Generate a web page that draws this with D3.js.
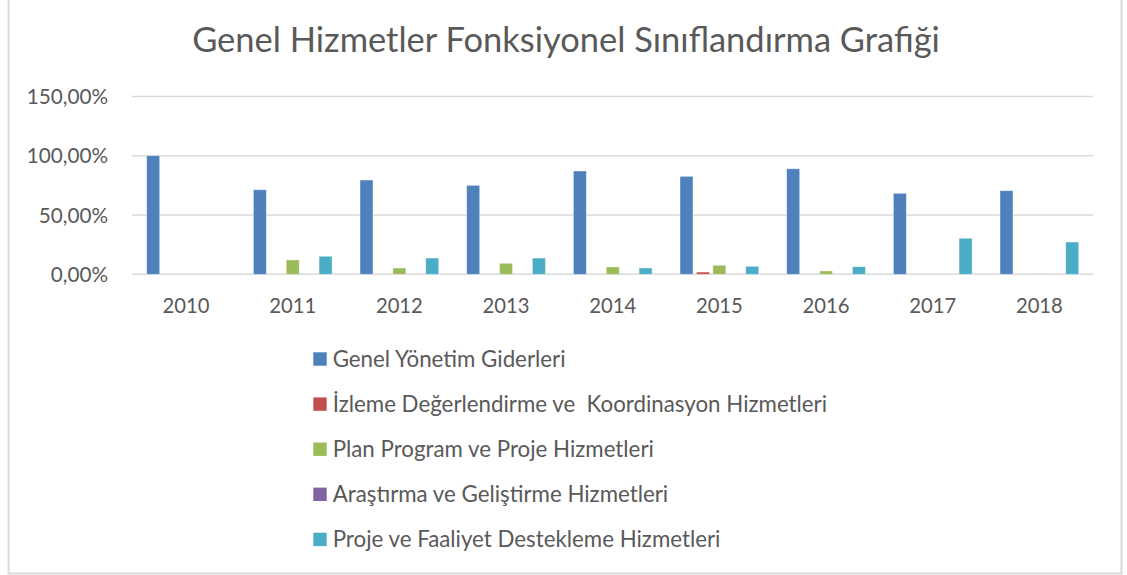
<!DOCTYPE html>
<html><head><meta charset="utf-8">
<script src="https://cdn.jsdelivr.net/npm/d3@7"></script>
<style>body{margin:0;background:#fff}svg{display:block}</style>
</head><body>
<svg id="c" width="1127" height="575"></svg>
<script>
const title = "Genel Hizmetler Fonksiyonel Sınıflandırma Grafiği";
const years = ["2010","2011","2012","2013","2014","2015","2016","2017","2018"];
const seriesNames = ["Genel Yönetim Giderleri","İzleme Değerlendirme ve  Koordinasyon Hizmetleri","Plan Program ve Proje Hizmetleri","Araştırma ve Geliştirme Hizmetleri","Proje ve Faaliyet Destekleme Hizmetleri"];
const seriesColors = ["#4f81bd","#c0504d","#9bbb59","#8064a2","#4bacc6"];
const genelYonetim = [1.00,0.713,0.795,0.75,0.871,0.826,0.89,0.683,0.705];
const izleme       = [0,0,0,0,0,0.019,0,0,0];
const planProgram  = [0,0.121,0.053,0.093,0.062,0.076,0.028,0,0.006];
const arastirma    = [0,0,0,0,0,0,0,0,0];
const projeFaaliyet= [0,0.152,0.137,0.137,0.053,0.067,0.064,0.304,0.272];
const yTicks = [0,0.5,1.0,1.5];
const yTickLabels = ["0,00%","50,00%","100,00%","150,00%"];

const seriesValues = [genelYonetim,izleme,planProgram,arastirma,projeFaaliyet];
const svg = d3.select("#c");
const font = "Lato, 'Open Sans', sans-serif";
const textColor = "#595959";

function fitSize(sel, target){
  const w = sel.node().getComputedTextLength();
  return (+sel.attr("font-size")) * target / w;
}

// border
svg.append("rect").attr("x",8.5).attr("y",-2).attr("width",1113).attr("height",575.5)
  .attr("fill","none").attr("stroke","#d9d9d9").attr("stroke-width",2);

const x = d3.scaleBand().domain(years).range([132.7,1092.7]).paddingInner(0).paddingOuter(0);
const y = d3.scaleLinear().domain([0,1.5]).range([274.3,96.4]);
const bw = x.bandwidth();
const step = bw*0.154, barW = bw*0.122;

// gridlines
svg.append("g").selectAll("line").data(yTicks).join("line")
  .attr("x1",132).attr("x2",1093).attr("y1",d=>y(d)).attr("y2",d=>y(d))
  .attr("stroke","#d9d9d9").attr("stroke-width",1.5);

// y labels
const yAxis = d3.axisLeft(y).tickValues(yTicks).tickSize(0).tickPadding(0)
  .tickFormat((d,i)=>yTickLabels[i]);
const ya = svg.append("g").attr("transform","translate(108,0)").call(yAxis);
ya.select(".domain").remove();
ya.selectAll("text").attr("font-family",font).attr("font-size",19).attr("fill",textColor).attr("dy","0.35em");
{
  const ref = ya.selectAll("text").filter((d,i)=>i===2);
  const fs = fitSize(ref, 81.3);
  ya.selectAll("text").attr("font-size",fs);
}

// x labels
const xAxis = d3.axisBottom(x).tickSize(0).tickPadding(0);
const xa = svg.append("g").attr("transform","translate(0,313)").call(xAxis);
xa.select(".domain").remove();
xa.selectAll("text").attr("font-family",font).attr("font-size",19).attr("fill",textColor).attr("dy",0);
{
  const ref = xa.selectAll("text").filter((d,i)=>i===0);
  const fs = fitSize(ref, 47);
  xa.selectAll("text").attr("font-size",fs);
}

// bars
seriesValues.forEach((vals,si)=>{
  svg.append("g").selectAll("rect").data(years.map((yr,i)=>({yr,v:vals[i]}))).join("rect")
    .filter(d=>d.v>0)
    .attr("x",d=>x(d.yr)+bw/2-2*step+si*step-barW/2)
    .attr("y",d=>y(d.v))
    .attr("width",barW)
    .attr("height",d=>y(0)-y(d.v))
    .attr("fill",seriesColors[si])
    .attr("stroke","#ffffff").attr("stroke-opacity",0.5).attr("stroke-width",0.8);
});

// title
const t = svg.append("text").attr("x",566).attr("y",52).attr("text-anchor","middle")
  .attr("font-family",font).attr("font-size",32).attr("fill",textColor).text(title);
t.attr("font-size", fitSize(t, 748));

// legend
const lg = svg.append("g");
let legendTexts = [];
seriesNames.forEach((n,i)=>{
  const yy = 366.7 + i*45.1;
  lg.append("rect").attr("x",313.3).attr("y",yy-14.4).attr("width",13.4).attr("height",13.4).attr("fill",seriesColors[i]);
  const tx = lg.append("text").attr("x",332.7).attr("y",yy).attr("font-family",font).attr("font-size",19)
    .attr("fill",textColor).style("white-space","pre").text(n);
  legendTexts.push(tx);
});
const lfs = fitSize(legendTexts[0], 233);
lg.selectAll("text").attr("font-size",lfs);
</script>
</body></html>
